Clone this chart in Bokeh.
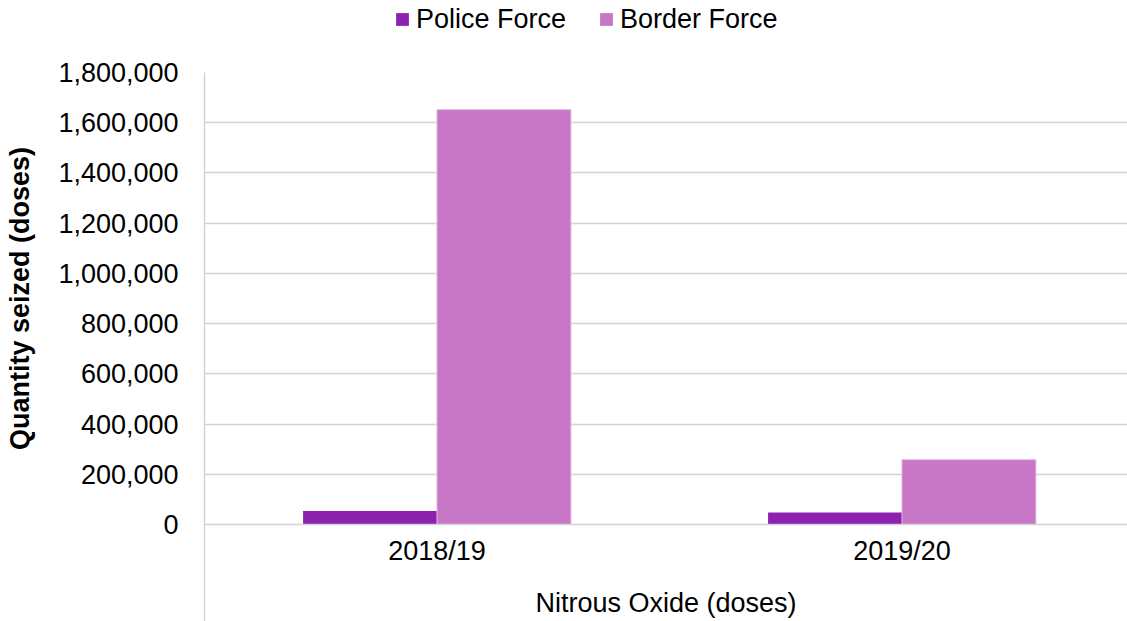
from bokeh.plotting import figure
from bokeh.layouts import column
from bokeh.models import (Range1d, FixedTicker, NumeralTickFormatter, Legend, LegendItem,
                          ColumnDataSource)
from bokeh.embed import file_html
from bokeh.resources import INLINE

# ---- data ----
categories = ["2018/19", "2019/20"]
police_force = [54000, 48000]
border_force = [1652000, 258000]
series_names = ["Police Force", "Border Force"]
y_ticks = [0, 200000, 400000, 600000, 800000, 1000000, 1200000, 1400000, 1600000, 1800000]
x_title = "Nitrous Oxide (doses)"
y_title = "Quantity seized (doses)"

FONT = "Liberation Sans"
FS = "27px"
POLICE_COL = "#8E22B0"
BORDER_COL = "#C777C5"
GRID_COL = "#d4d4d4"

centers = [i + 0.5 for i in range(len(categories))]
bar_w = 0.288

# ---------------- main chart ----------------
p = figure(width=1127, height=569, output_backend="svg", toolbar_location=None,
           x_range=Range1d(0, 1.985), y_range=Range1d(0, 1800000),
           min_border_left=204, min_border_right=0, min_border_top=20, min_border_bottom=97)
p.outline_line_color = None

src_p = ColumnDataSource(dict(x=[c - bar_w / 2 for c in centers], top=police_force))
src_b = ColumnDataSource(dict(x=[c + bar_w / 2 for c in centers], top=border_force))
p.vbar(x="x", top="top", width=bar_w, source=src_p, fill_color=POLICE_COL, line_color=None)
p.vbar(x="x", top="top", width=bar_w, source=src_b, fill_color=BORDER_COL,
       line_color="#e2b6e0", line_width=1)

# y axis
p.yaxis.ticker = FixedTicker(ticks=y_ticks)
p.yaxis.formatter = NumeralTickFormatter(format="0,0")
p.yaxis.major_tick_line_color = None
p.yaxis.minor_tick_line_color = None
p.yaxis.axis_line_color = GRID_COL
p.yaxis.axis_line_width = 1.5
p.yaxis.major_label_text_font = FONT
p.yaxis.major_label_text_font_size = FS
p.yaxis.major_label_text_color = "black"
p.yaxis.major_label_standoff = 20
p.yaxis.axis_label = y_title
p.yaxis.axis_label_text_font = FONT
p.yaxis.axis_label_text_font_size = FS
p.yaxis.axis_label_text_font_style = "bold"
p.yaxis.axis_label_text_color = "black"
p.yaxis.axis_label_standoff = 20

# x axis (minor tick at the left edge draws the category separator)
p.xaxis.ticker = FixedTicker(ticks=centers, minor_ticks=[0])
p.xaxis.major_label_overrides = {c: lab for c, lab in zip(centers, categories)}
p.xaxis.major_tick_line_color = None
p.xaxis.minor_tick_line_color = GRID_COL
p.xaxis.minor_tick_line_width = 1.5
p.xaxis.minor_tick_in = 0
p.xaxis.minor_tick_out = 97
p.xaxis.axis_line_color = GRID_COL
p.xaxis.axis_line_width = 1.5
p.xaxis.major_label_text_font = FONT
p.xaxis.major_label_text_font_size = FS
p.xaxis.major_label_text_color = "black"
p.xaxis.major_label_standoff = -86
p.xaxis.axis_label = x_title
p.xaxis.axis_label_text_font = FONT
p.xaxis.axis_label_text_font_size = FS
p.xaxis.axis_label_text_font_style = "normal"
p.xaxis.axis_label_text_color = "black"
p.xaxis.axis_label_standoff = 19

# grid
p.xgrid.grid_line_color = None
p.ygrid.ticker = FixedTicker(ticks=y_ticks)
p.ygrid.grid_line_color = GRID_COL
p.ygrid.grid_line_width = 1.5

# ---------------- legend strip ----------------
lg = figure(width=1127, height=52, output_backend="svg", toolbar_location=None,
            x_range=Range1d(0, 1), y_range=Range1d(0, 1),
            x_axis_type=None, y_axis_type=None, min_border=0)
lg.outline_line_color = None
lg.grid.visible = False
# legend proxies: one point each, outside the visible range
l1 = lg.vbar(x="x", top="top", width=0.1, source=ColumnDataSource(dict(x=[-10], top=[0])),
             fill_color=POLICE_COL, line_color=None)
l2 = lg.vbar(x="x", top="top", width=0.1, source=ColumnDataSource(dict(x=[-10], top=[0])),
             fill_color=BORDER_COL, line_color=None)
legend = Legend(items=[LegendItem(label=series_names[0], renderers=[l1]),
                       LegendItem(label=series_names[1], renderers=[l2])],
                orientation="horizontal", location=(190, 14),
                label_text_font=FONT, label_text_font_size=FS, label_text_color="black",
                glyph_width=16, glyph_height=16, label_standoff=6, spacing=32,
                label_height=38,
                padding=0, margin=0, border_line_color=None, background_fill_alpha=0)
lg.add_layout(legend, "center")

layout = column(lg, p, spacing=0)
open("out.html", "w").write(file_html(layout, INLINE))
